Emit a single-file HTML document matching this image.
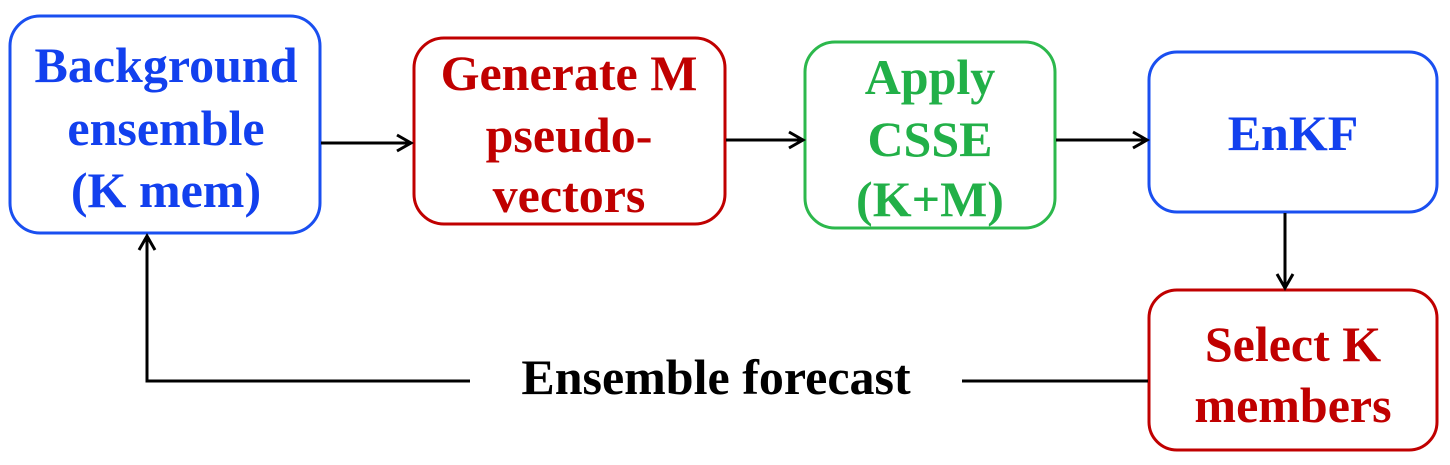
<!DOCTYPE html>
<html><head><meta charset="utf-8"><style>
html,body{margin:0;padding:0;background:#fff;}
svg{display:block}
text{font-family:"Liberation Serif",serif;font-weight:bold;font-size:50px;text-anchor:middle}
.b{fill:#1240ee}.r{fill:#c00000}.g{fill:#22b048}.k{fill:#000}
</style></head><body>
<svg width="1450" height="465" viewBox="0 0 1450 465" xmlns="http://www.w3.org/2000/svg">
<defs><marker id="a" markerWidth="20" markerHeight="20" refX="16" refY="10" orient="auto" markerUnits="userSpaceOnUse"><path d="M2,2 L16,10 L2,18" fill="none" stroke="#000" stroke-width="3"/></marker></defs>
<rect x="10" y="16" width="310" height="217" rx="30" fill="none" stroke="#1a4ff0" stroke-width="3"/>
<rect x="414" y="38" width="311" height="186" rx="30" fill="none" stroke="#c00000" stroke-width="3"/>
<rect x="805" y="42" width="250" height="186" rx="30" fill="none" stroke="#2cb84c" stroke-width="3"/>
<rect x="1149" y="52" width="288" height="160" rx="28" fill="none" stroke="#1a4ff0" stroke-width="3"/>
<rect x="1149" y="290" width="288" height="160" rx="28" fill="none" stroke="#c00000" stroke-width="3"/>
<g stroke="#000" stroke-width="3" fill="none">
<line x1="321" y1="143" x2="411" y2="143" marker-end="url(#a)"/>
<line x1="726" y1="140" x2="803" y2="140" marker-end="url(#a)"/>
<line x1="1056" y1="140" x2="1147" y2="140" marker-end="url(#a)"/>
<line x1="1285" y1="213" x2="1285" y2="288" marker-end="url(#a)"/>
<line x1="1148" y1="381" x2="962" y2="381"/>
<polyline points="470,381 147,381 147,236" marker-end="url(#a)"/>
</g>
<text class="b" x="166" y="82">Background</text>
<text class="b" x="166" y="145">ensemble</text>
<text class="b" x="166" y="207">(K mem)</text>
<text class="r" x="569" y="90">Generate M</text>
<text class="r" x="569" y="152">pseudo-</text>
<text class="r" x="569" y="212">vectors</text>
<text class="g" x="930" y="94">Apply</text>
<text class="g" x="930" y="156">CSSE</text>
<text class="g" x="930" y="216">(K+M)</text>
<text class="b" x="1293" y="150">EnKF</text>
<text class="r" x="1293" y="361">Select K</text>
<text class="r" x="1293" y="422">members</text>
<text class="k" x="716" y="394">Ensemble forecast</text>
</svg>
</body></html>
